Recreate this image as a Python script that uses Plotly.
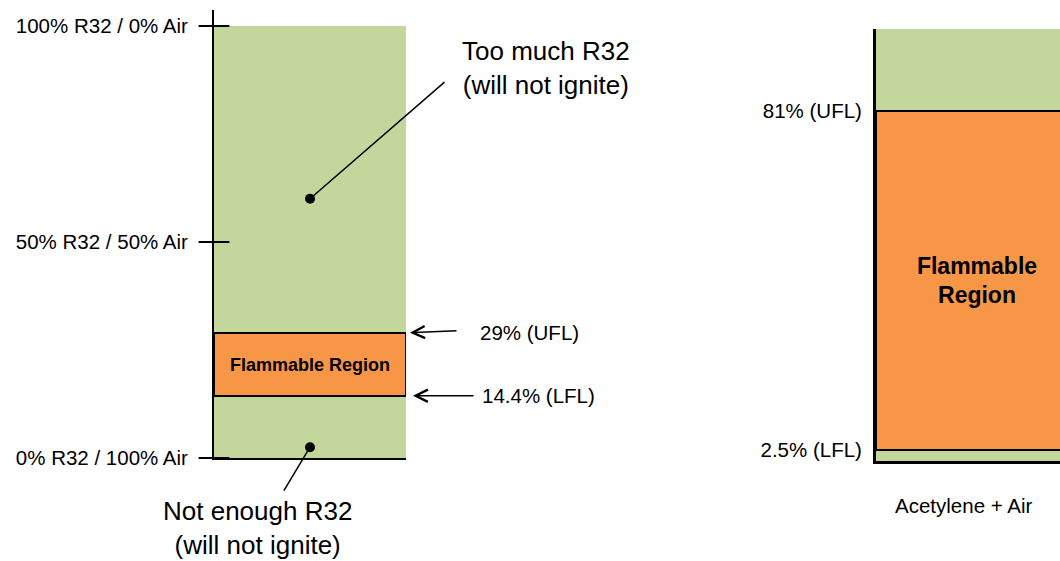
import plotly.graph_objects as go

# ---------------- data ----------------
r32_full = 100
r32_lfl = 14.4
r32_ufl = 29
r32_tick_vals = [0, 50, 100]
r32_tick_text = ["0% R32 / 100% Air", "50% R32 / 50% Air", "100% R32 / 0% Air"]

acet_full = 100
acet_lfl = 2.5
acet_ufl = 81
acet_tick_vals = [2.5, 81]
acet_tick_text = ["2.5% (LFL)", "81% (UFL)"]

left_region_text = "<b>Flammable Region</b>"
right_region_text = "<b>Flammable<br>Region</b>"
too_much_text = "Too much R32<br>(will not ignite)"
not_enough_text = "Not enough R32<br>(will not ignite)"
ufl_text = "29% (UFL)"
lfl_text = "14.4% (LFL)"
acet_label = "Acetylene + Air"

# ---------------- style ----------------
W, H = 1060, 561
FONT = "Liberation Sans, Arial, sans-serif"
GREEN = "#C3D69B"
ORANGE = "#F79646"

fig = go.Figure()

# left column (R32)
fig.add_trace(go.Bar(x=[0], y=[r32_full], base=[0], width=[1],
                     marker=dict(color=GREEN, line=dict(width=0)),
                     xaxis="x", yaxis="y", hoverinfo="skip"))
fig.add_trace(go.Bar(x=[0], y=[r32_ufl - r32_lfl], base=[r32_lfl], width=[1],
                     marker=dict(color=ORANGE, line=dict(color="black", width=2)),
                     text=[left_region_text], textposition="inside",
                     insidetextanchor="middle", textangle=0,
                     textfont=dict(family=FONT, size=18, color="black"),
                     xaxis="x", yaxis="y", hoverinfo="skip"))
# crossing tick marks
fig.add_trace(go.Scatter(x=[-0.5] * len(r32_tick_vals), y=r32_tick_vals, mode="markers",
                         marker=dict(symbol="line-ew", size=22, color="black",
                                     line=dict(color="black", width=2)),
                         cliponaxis=False, xaxis="x", yaxis="y", hoverinfo="skip"))
# dots for the callouts
fig.add_trace(go.Scatter(x=[0, 0], y=[60, 2.5], mode="markers",
                         marker=dict(symbol="circle", size=10, color="black"),
                         cliponaxis=False, xaxis="x", yaxis="y", hoverinfo="skip"))

# right column (acetylene)
fig.add_trace(go.Bar(x=[0], y=[acet_full], base=[0], width=[1.1], offset=-0.5,
                     marker=dict(color=GREEN, line=dict(width=0)),
                     xaxis="x2", yaxis="y2", hoverinfo="skip"))
fig.add_trace(go.Bar(x=[0], y=[acet_ufl - acet_lfl], base=[acet_lfl], width=[1.1], offset=-0.5,
                     marker=dict(color=ORANGE, line=dict(color="black", width=2)),
                     text=[right_region_text], textposition="inside",
                     insidetextanchor="middle", textangle=0,
                     textfont=dict(family=FONT, size=23, color="black"),
                     xaxis="x2", yaxis="y2", hoverinfo="skip"))

axis_common = dict(showgrid=False, zeroline=False, fixedrange=True)

fig.update_layout(
    width=W, height=H,
    margin=dict(l=0, r=0, t=0, b=0),
    paper_bgcolor="white", plot_bgcolor="rgba(0,0,0,0)",
    showlegend=False, barmode="overlay", bargap=0,
    font=dict(family=FONT, color="black"),
    xaxis=dict(domain=[214 / W, 406 / W], range=[-0.5, 0.5], anchor="y",
               showline=True, linecolor="black", linewidth=2,
               showticklabels=False, ticks="", **axis_common),
    yaxis=dict(domain=[1 - 458 / H, 1 - 10 / H], range=[0, 103.7], anchor="x",
               showline=True, linecolor="black", linewidth=2,
               tickvals=r32_tick_vals, ticktext=r32_tick_text,
               ticks="outside", ticklen=11, tickwidth=2, tickcolor="black",
               ticklabelstandoff=9, automargin=False,
               tickfont=dict(family=FONT, size=20.5, color="black"), **axis_common),
    xaxis2=dict(domain=[876 / W, 1], range=[-0.5, 0.5], anchor="y2",
                showline=True, linecolor="black", linewidth=3,
                showticklabels=False, ticks="", **axis_common),
    yaxis2=dict(domain=[1 - 461 / H, 1 - 29 / H], range=[0, 100], anchor="x2",
                showline=True, linecolor="black", linewidth=3,
                tickvals=acet_tick_vals, ticktext=acet_tick_text,
                ticks="", ticklabelstandoff=7, automargin=False,
                tickfont=dict(family=FONT, size=20.5, color="black"), **axis_common),
)

ann = []
# callout lines from dots
ann.append(dict(xref="x", yref="y", x=0, y=60, ax=136, ay=-118, axref="pixel", ayref="pixel",
                text="", showarrow=True, arrowhead=0, arrowwidth=1.5, arrowcolor="black"))
ann.append(dict(xref="x", yref="y", x=0, y=2.5, ax=-27, ay=45, axref="pixel", ayref="pixel",
                text="", showarrow=True, arrowhead=0, arrowwidth=1.5, arrowcolor="black"))
# UFL / LFL arrows
ann.append(dict(xref="paper", yref="y", x=410 / W, y=r32_ufl, ax=48, ay=-2,
                text="", showarrow=True, arrowhead=5, arrowsize=1.6, arrowwidth=1.5,
                arrowcolor="black"))
ann.append(dict(xref="paper", yref="y", x=413 / W, y=r32_lfl, ax=62, ay=0,
                text="", showarrow=True, arrowhead=5, arrowsize=1.6, arrowwidth=1.5,
                arrowcolor="black"))
ann.append(dict(xref="paper", yref="y", x=478 / W, y=r32_ufl, xanchor="left", yanchor="middle",
                text=ufl_text, showarrow=False, font=dict(family=FONT, size=20.5, color="black")))
ann.append(dict(xref="paper", yref="y", x=480 / W, y=r32_lfl, xanchor="left", yanchor="middle",
                text=lfl_text, showarrow=False, font=dict(family=FONT, size=20.5, color="black")))
# big callout texts
ann.append(dict(xref="paper", yref="paper", x=546 / W, y=1 - 67.5 / H, xanchor="center",
                yanchor="middle", text=too_much_text, showarrow=False,
                font=dict(family=FONT, size=26, color="black")))
ann.append(dict(xref="paper", yref="paper", x=257 / W, y=1 - 528 / H, xanchor="center",
                yanchor="middle", text=not_enough_text, showarrow=False,
                font=dict(family=FONT, size=26, color="black")))
# acetylene label
ann.append(dict(xref="paper", yref="paper", x=963 / W, y=1 - 505 / H, xanchor="center",
                yanchor="middle", text=acet_label, showarrow=False,
                font=dict(family=FONT, size=20.5, color="black")))
fig.update_layout(annotations=ann)

fig.write_html("out.html", config={"displayModeBar": False},
               post_script="document.body.style.margin='0';document.body.style.overflow='hidden';")
